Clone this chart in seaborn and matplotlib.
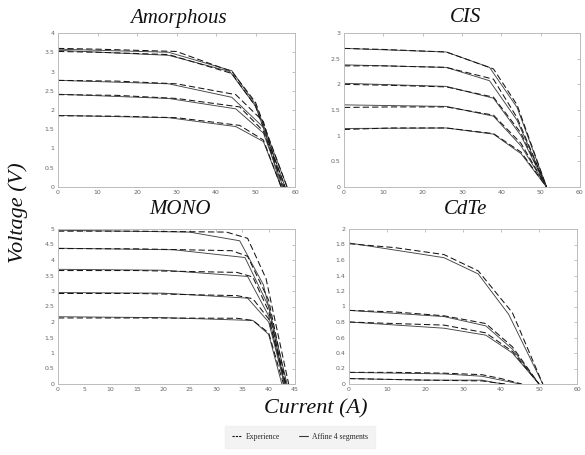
import numpy as np
import pandas as pd
import matplotlib
matplotlib.use("Agg")
import matplotlib.pyplot as plt
import seaborn as sns
from matplotlib.lines import Line2D

sns.set_theme(style="white")

# Panel names and axis ranges
panels = ["Amorphous", "CIS", "MONO", "CdTe"]
x_limits = {"Amorphous": (0, 60), "CIS": (0, 60), "MONO": (0, 45), "CdTe": (0, 60)}
y_limits = {"Amorphous": (0, 4), "CIS": (0, 3), "MONO": (0, 5), "CdTe": (0, 2)}
x_ticks = {"Amorphous": [0, 10, 20, 30, 40, 50, 60],
           "CIS": [0, 10, 20, 30, 40, 50, 60],
           "MONO": [0, 5, 10, 15, 20, 25, 30, 35, 40, 45],
           "CdTe": [0, 10, 20, 30, 40, 50, 60]}
y_ticks = {"Amorphous": [0, 0.5, 1, 1.5, 2, 2.5, 3, 3.5, 4],
           "CIS": [0, 0.5, 1, 1.5, 2, 2.5, 3],
           "MONO": [0, 0.5, 1, 1.5, 2, 2.5, 3, 3.5, 4, 4.5, 5],
           "CdTe": [0, 0.2, 0.4, 0.6, 0.8, 1, 1.2, 1.4, 1.6, 1.8, 2]}

# Measured curves ("Experience"): current (A) and voltage (V)
amorphous_exp_i = [[0, 10, 30, 44, 50, 58], [0, 10, 28, 44, 50, 57.5], [0, 15, 30, 45, 52, 56.8],
                   [0, 15, 30, 46, 52, 57.2], [0, 15, 30, 46, 52, 56.5]]
amorphous_exp_v = [[3.6, 3.58, 3.52, 3.0, 2.2, 0], [3.52, 3.5, 3.44, 2.95, 2.1, 0], [2.77, 2.75, 2.68, 2.4, 1.7, 0],
                   [2.4, 2.38, 2.3, 2.08, 1.45, 0], [1.85, 1.84, 1.8, 1.6, 1.22, 0]]
# Piecewise-linear fits ("Affine 4 segments")
amorphous_fit_i = [[0, 28, 44, 50, 58], [0, 28, 43.5, 50, 57.5], [0, 28, 44, 52, 56.5],
                   [0, 28, 45, 52, 57], [0, 28, 45, 52, 56.5]]
amorphous_fit_v = [[3.58, 3.5, 3.02, 2.15, 0], [3.55, 3.42, 3.0, 2.1, 0], [2.77, 2.68, 2.33, 1.55, 0],
                   [2.41, 2.3, 2.03, 1.4, 0], [1.86, 1.8, 1.57, 1.18, 0]]

cis_exp_i = [[0, 10, 26, 38, 44, 51.5], [0, 10, 26, 38, 44, 51.5], [0, 12, 26, 38, 45, 51.5],
             [0, 12, 26, 38, 45, 51.5], [0, 12, 26, 38, 45, 51.5]]
cis_exp_v = [[2.7, 2.68, 2.63, 2.3, 1.6, 0], [2.36, 2.36, 2.33, 2.1, 1.35, 0], [2.0, 1.98, 1.95, 1.75, 1.05, 0],
             [1.55, 1.56, 1.56, 1.4, 0.85, 0], [1.12, 1.15, 1.15, 1.04, 0.68, 0]]
cis_fit_i = [[0, 26, 37, 44, 51.5], [0, 26, 37, 44, 51.5], [0, 26, 38, 45, 51.5],
             [0, 26, 38, 45, 51.5], [0, 26, 38, 45, 51.5]]
cis_fit_v = [[2.7, 2.63, 2.33, 1.55, 0], [2.38, 2.33, 2.07, 1.3, 0], [2.02, 1.96, 1.73, 1.0, 0],
             [1.6, 1.57, 1.38, 0.8, 0], [1.14, 1.15, 1.03, 0.65, 0]]

mono_exp_i = [[0, 15, 32, 36, 39.5, 43.8], [0, 15, 33, 36, 40, 43.3], [0, 15, 34, 37, 40, 43.2],
              [0, 15, 34, 37, 40, 43.2], [0, 15, 34, 37, 40, 42.8]]
mono_exp_v = [[4.93, 4.93, 4.9, 4.7, 3.4, 0], [4.37, 4.36, 4.3, 4.12, 2.7, 0], [3.66, 3.66, 3.6, 3.45, 2.35, 0],
              [2.92, 2.92, 2.85, 2.75, 2.1, 0], [2.13, 2.13, 2.12, 2.05, 1.65, 0]]
mono_fit_i = [[0, 25, 34.5, 39, 43.5], [0, 22, 35.5, 40, 43], [0, 20, 36, 40, 43],
              [0, 20, 36, 40, 43], [0, 20, 37, 40, 42.5]]
mono_fit_v = [[4.96, 4.9, 4.62, 3.2, 0], [4.38, 4.33, 4.08, 2.5, 0], [3.7, 3.67, 3.47, 2.2, 0],
              [2.95, 2.93, 2.77, 2.0, 0], [2.17, 2.14, 2.05, 1.6, 0]]

cdte_exp_i = [[0, 12, 25, 34, 43, 51], [0, 12, 25, 36, 43, 50], [0, 12, 25, 36, 43, 50],
              [0, 12, 25, 35, 40, 45.5], [0, 10, 20, 35, 38, 41]]
cdte_exp_v = [[1.81, 1.76, 1.67, 1.46, 0.92, 0], [0.95, 0.93, 0.88, 0.78, 0.48, 0], [0.8, 0.78, 0.76, 0.66, 0.42, 0],
              [0.15, 0.15, 0.14, 0.12, 0.07, 0], [0.07, 0.06, 0.05, 0.04, 0.02, 0]]
cdte_fit_i = [[0, 25, 34, 42, 51], [0, 25, 36, 43, 50], [0, 25, 36, 43, 50],
              [0, 25, 35, 40, 45], [0, 20, 35, 38, 41]]
cdte_fit_v = [[1.82, 1.63, 1.42, 0.9, 0], [0.95, 0.87, 0.75, 0.45, 0], [0.8, 0.72, 0.63, 0.4, 0],
              [0.15, 0.13, 0.1, 0.05, 0], [0.07, 0.05, 0.05, 0.02, 0]]

experience = {"Amorphous": (amorphous_exp_i, amorphous_exp_v), "CIS": (cis_exp_i, cis_exp_v),
              "MONO": (mono_exp_i, mono_exp_v), "CdTe": (cdte_exp_i, cdte_exp_v)}
affine = {"Amorphous": (amorphous_fit_i, amorphous_fit_v), "CIS": (cis_fit_i, cis_fit_v),
          "MONO": (mono_fit_i, mono_fit_v), "CdTe": (cdte_fit_i, cdte_fit_v)}

W, H = 585, 455
fig = plt.figure(figsize=(W / 100, H / 100), dpi=100)
fig.patch.set_facecolor("white")


def box(l, t, r, b):
    return [l / W, 1 - b / H, (r - l) / W, (b - t) / H]


positions = {"Amorphous": box(58, 33, 295, 187), "CIS": box(344, 33, 580, 187),
             "MONO": box(58, 229, 295, 384), "CdTe": box(349, 229, 577, 384)}
title_xy = {"Amorphous": (178, 18), "CIS": (466, 18), "MONO": (180, 210), "CdTe": (466, 210)}

serif_it = dict(family="Liberation Serif", style="italic")

for name in panels:
    ax = fig.add_axes(positions[name])
    ax.set_facecolor("white")
    ei, ev = experience[name]
    fi, fv = affine[name]
    for k in range(len(fi)):
        sns.lineplot(x=fi[k], y=fv[k], ax=ax, color="#444444", lw=0.65, linestyle="-",
                     sort=False, estimator=None)
        sns.lineplot(x=ei[k], y=ev[k], ax=ax, color="#151515", lw=0.75, linestyle=(0, (6, 3)),
                     sort=False, estimator=None)
    ax.set_xlim(*x_limits[name])
    ax.set_ylim(*y_limits[name])
    ax.set_xticks(x_ticks[name])
    ax.set_yticks(y_ticks[name])
    ax.set_xticklabels([f"{v:g}" for v in x_ticks[name]])
    ax.set_yticklabels([f"{v:g}" for v in y_ticks[name]])
    ax.tick_params(direction="in", length=2, width=0.5, labelsize=4.5, colors="#aaaaaa",
                   labelcolor="#666666", top=True, right=True, pad=2.5)
    ax.set_xlabel("")
    ax.set_ylabel("")
    for s in ax.spines.values():
        s.set_color("#bbbbbb")
        s.set_linewidth(0.7)
    fig.text(title_xy[name][0] / W, 1 - title_xy[name][1] / H, name, ha="center", va="center",
             fontsize=15, color="#111111", **serif_it)

fig.text(18 / W, 1 - 213 / H, "Voltage (V)", rotation=90, ha="center", va="center",
         fontsize=16, color="#111111", **serif_it)
fig.text(316 / W, 1 - 409 / H, "Current (A)", ha="center", va="center",
         fontsize=16, color="#111111", **serif_it)

handles = [Line2D([], [], color="#111111", lw=0.8, linestyle=(0, (2, 1))),
           Line2D([], [], color="#3a3a3a", lw=0.8, linestyle="-")]
leg = fig.legend(handles, ["Experience", "Affine 4 segments"], loc="center",
                 bbox_to_anchor=(300 / W, 1 - 437 / H), ncol=2, frameon=True,
                 prop={"family": "Liberation Serif", "size": 5.5}, handlelength=1.2,
                 handletextpad=0.5, columnspacing=2.5, borderpad=0.9, fancybox=False)
leg.get_frame().set_facecolor("#f0f0f0")
leg.get_frame().set_edgecolor("#f0f0f0")

fig.savefig("out.png", dpi=100, facecolor="white")
